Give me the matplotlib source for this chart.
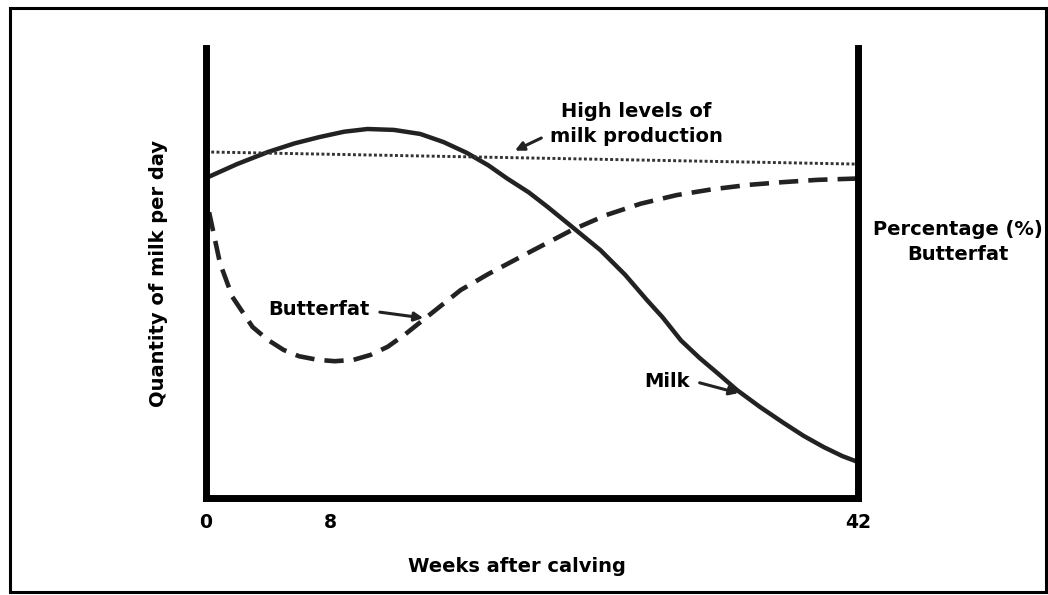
import matplotlib.pyplot as plt
from matplotlib.patches import Rectangle

plt.rcParams['font.family'] = ['DejaVu Sans']
plt.rcParams['font.weight'] = 'bold'

# Data (weeks after calving, relative level 0-100)
milk_weeks = [0, 2, 4, 5.7, 7.3, 8.9, 10.4, 12.1, 13.8, 15.3, 16.8, 18.2, 19.4, 20.8, 22, 23.6,
              25.4, 27, 28.4, 29.4, 30.6, 31.8, 33, 34.2, 35.7, 37.2, 38.5, 39.8, 41, 42]
milk_level = [71.1, 74.2, 76.9, 78.8, 80.2, 81.4, 82.0, 81.8, 80.9, 79.1, 76.7, 73.9, 71.0, 67.9, 64.7, 60.2,
              55.1, 49.6, 44.0, 40.2, 35.0, 31.1, 27.6, 24.0, 20.2, 16.7, 13.8, 11.3, 9.3, 8.0]

fat_weeks = [0.2, 0.9, 1.7, 3.0, 4.0, 5.0, 6.0, 7.2, 8.3, 9.5, 10.6, 11.7, 12.8, 14.0, 15.2, 16.4, 18.2,
             21.1, 23.6, 25.8, 28, 30.3, 32.6, 35.0, 37.2, 39.4, 42]
fat_level = [63.5, 52.2, 44.7, 38.0, 35.1, 32.9, 31.5, 30.7, 30.4, 30.7, 31.8, 33.6, 36.3, 39.6, 42.9, 46.2, 49.8,
             55.1, 59.6, 62.9, 65.4, 67.3, 68.6, 69.6, 70.2, 70.7, 71.0]

high_weeks = [0, 42]
high_level = [76.9, 74.2]

tick_weeks = [0, 8, 42]
tick_labels = ['0', '8', '42']

fig = plt.figure(figsize=(10.48, 5.95), dpi=100)
ax = fig.add_axes([206 / 1048, 97 / 595, 652 / 1048, 450 / 595])

ax.plot(milk_weeks, milk_level, color='#222222', lw=3.2, solid_capstyle='round',
        solid_joinstyle='round')
ax.plot(fat_weeks, fat_level, color='#222222', lw=3.3, dashes=(4.2, 2.2))
ax.plot(high_weeks, high_level, color='#333333', lw=2.1, dashes=(1, 0.8))

ax.set_xlim(0, 42)
ax.set_ylim(0, 100)

ax.spines['top'].set_visible(False)
for side in ['left', 'right', 'bottom']:
    ax.spines[side].set_linewidth(5)
    ax.spines[side].set_color('black')
    ax.spines[side].set_capstyle('projecting')

ax.set_yticks([])
ax.set_xticks(tick_weeks)
ax.set_xticklabels(tick_labels, fontsize=13.5, fontweight='bold')
ax.tick_params(axis='x', length=0, pad=11)

ax.set_xlabel('Weeks after calving', fontsize=14, fontweight='bold')
ax.xaxis.set_label_coords(0.477, -0.13)
ax.set_ylabel('Quantity of milk per day', fontsize=14, fontweight='bold')
ax.yaxis.set_label_coords(-0.058, 0.498)

arrow = dict(arrowstyle='-|>', color='#222222', lw=2.2, mutation_scale=13,
             shrinkA=0, shrinkB=0)

# annotations
ax.text(27.7, 83.1, 'High levels of\nmilk production', fontsize=14, fontweight='bold',
        ha='center', va='center', linespacing=1.45)
ax.annotate('', xy=(19.9, 77.2), xytext=(21.6, 80.0), arrowprops=arrow)

ax.text(7.3, 41.8, 'Butterfat', fontsize=14, fontweight='bold', ha='center', va='center')
ax.annotate('', xy=(14.0, 40.0), xytext=(11.2, 41.3), arrowprops=arrow)

ax.text(29.7, 25.8, 'Milk', fontsize=14, fontweight='bold', ha='center', va='center')
ax.annotate('', xy=(34.3, 23.3), xytext=(31.8, 25.6), arrowprops=arrow)

fig.text(958 / 1048, 1 - 242 / 595, 'Percentage (%)\nButterfat', fontsize=14,
         fontweight='bold', ha='center', va='center', linespacing=1.45)

# frame round the whole picture
fig.patches.append(Rectangle((10 / 1048, 3 / 595), 1036 / 1048, 584 / 595,
                             transform=fig.transFigure, fill=False,
                             edgecolor='black', lw=2.2))

fig.savefig('out.png', dpi=100)
